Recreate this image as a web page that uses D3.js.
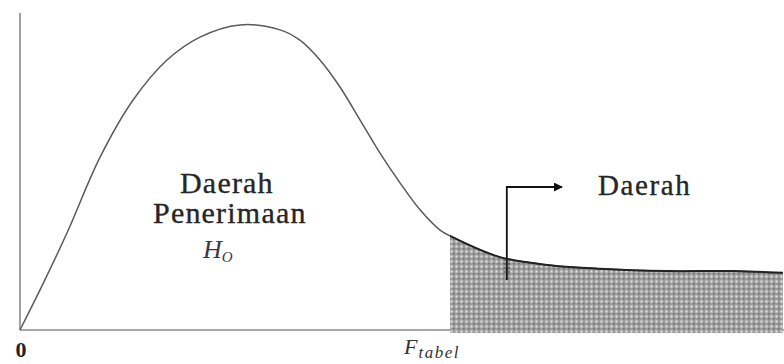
<!DOCTYPE html>
<html>
<head>
<meta charset="utf-8">
<script src="https://cdn.jsdelivr.net/npm/d3@7"></script>
<style>
  html, body { margin: 0; padding: 0; background: #fff; }
  svg { display: block; }
</style>
</head>
<body>
<svg id="chart" width="784" height="364"></svg>
<script>
// ---- data (F distribution sketch) ----
const fValues = [0, 0.131, 0.308, 0.524, 0.740, 0.962, 1.178, 1.440, 1.702, 1.832, 1.963, 2.094, 2.225, 2.356, 2.487, 2.618, 2.749, 2.827, 3.141, 3.469, 3.796, 4.234, 4.666, 4.993];
const density = [0, 0.089, 0.216, 0.384, 0.511, 0.600, 0.651, 0.678, 0.667, 0.644, 0.600, 0.540, 0.467, 0.393, 0.327, 0.267, 0.222, 0.207, 0.162, 0.144, 0.136, 0.131, 0.131, 0.127];
const fTabel = 2.814;
const originLabel = "0";
const acceptLabel = ["Daerah", "Penerimaan"];
const rejectLabel = "Daerah";

const W = 784, H = 364;
const FONT = "Liberation Serif";
const svg = d3.select("#chart");
const x = d3.scaleLinear().domain([0, 5]).range([20, 784]);
const y = d3.scaleLinear().domain([0, 0.7]).range([330, 15]);

const pts = fValues.map((v, i) => [v, density[i]]);
const curve = d3.curveCatmullRom.alpha(0.5);

// pattern for rejection region
const defs = svg.append("defs");
const pat = defs.append("pattern").attr("id", "dots").attr("patternUnits", "userSpaceOnUse")
  .attr("width", 5).attr("height", 5);
pat.append("rect").attr("width", 5).attr("height", 5).attr("fill", "#9c9c9c");
pat.append("rect").attr("x", 0.5).attr("y", 0.5).attr("width", 2).attr("height", 2).attr("fill", "#e6e6e6");
pat.append("rect").attr("x", 3).attr("y", 3).attr("width", 1.5).attr("height", 1.5).attr("fill", "#6e6e6e");

defs.append("clipPath").attr("id", "rej").append("rect")
  .attr("x", x(fTabel)).attr("y", 0).attr("width", W - x(fTabel)).attr("height", H);

// axes
svg.append("line").attr("x1", x(0)).attr("x2", W).attr("y1", y(0)).attr("y2", y(0))
  .attr("stroke", "#8a8a8a").attr("stroke-width", 1.6);
svg.append("line").attr("x1", x(0)).attr("x2", x(0)).attr("y1", y(0)).attr("y2", 13)
  .attr("stroke", "#8a8a8a").attr("stroke-width", 1.6);

// shaded area
const area = d3.area().x(d => x(d[0])).y0(y(0) + 3).y1(d => y(d[1])).curve(curve);
svg.append("path").datum(pts).attr("d", area).attr("fill", "url(#dots)").attr("clip-path", "url(#rej)");

// curve
const line = d3.line().x(d => x(d[0])).y(d => y(d[1])).curve(curve);
svg.append("path").datum(pts).attr("d", line).attr("fill", "none")
  .attr("stroke", "#5a5a5a").attr("stroke-width", 1.5);
svg.append("path").datum(pts).attr("d", line).attr("fill", "none")
  .attr("stroke", "#222").attr("stroke-width", 2).attr("clip-path", "url(#rej)");

// arrow
defs.append("marker").attr("id", "ah").attr("viewBox", "0 0 10 10").attr("refX", 9).attr("refY", 5)
  .attr("markerWidth", 5).attr("markerHeight", 5).attr("orient", "auto")
  .append("path").attr("d", "M0,0 L10,5 L0,10 Z").attr("fill", "#111");
const ax = x(3.186);
svg.append("path").attr("d", `M${ax},280 L${ax},187 L562,187`).attr("fill", "none")
  .attr("stroke", "#111").attr("stroke-width", 1.8).attr("marker-end", "url(#ah)");
[260, 264, 268, 272].forEach(t => {
  svg.append("line").attr("x1", ax - 3).attr("x2", ax + 3).attr("y1", t).attr("y2", t)
    .attr("stroke", "#333").attr("stroke-width", 0.8);
});

// text
const txt = "#262626";
function label(xp, yp, s, size, ls) {
  return svg.append("text").attr("x", xp).attr("y", yp)
    .attr("font-family", FONT).attr("font-size", size).attr("letter-spacing", ls)
    .attr("fill", txt).attr("stroke", txt).attr("stroke-width", 0.35).text(s);
}
label(180, 193, acceptLabel[0], 30, 1.2);
label(153, 223, acceptLabel[1], 30, 1.2);
label(598, 195, rejectLabel, 29, 1.6);

const h0 = svg.append("text").attr("x", 203).attr("y", 258)
  .attr("font-family", FONT).attr("font-style", "italic").attr("font-size", 26).attr("fill", "#3a3a4a");
h0.append("tspan").text("H");
h0.append("tspan").attr("font-size", 15).attr("dy", 4).attr("dx", 0).text("O");

svg.append("text").attr("x", 21).attr("y", 357).attr("text-anchor", "middle")
  .attr("font-family", FONT).attr("font-weight", "bold").attr("font-size", 22).attr("fill", "#222")
  .text(originLabel);

const ft = svg.append("text").attr("x", 404).attr("y", 354)
  .attr("font-family", FONT).attr("font-style", "italic").attr("font-size", 22).attr("fill", "#333");
ft.append("tspan").text("F");
ft.append("tspan").attr("font-size", 17).attr("dy", 4).attr("dx", 1).attr("letter-spacing", 1.5).text("tabel");
</script>
</body>
</html>
